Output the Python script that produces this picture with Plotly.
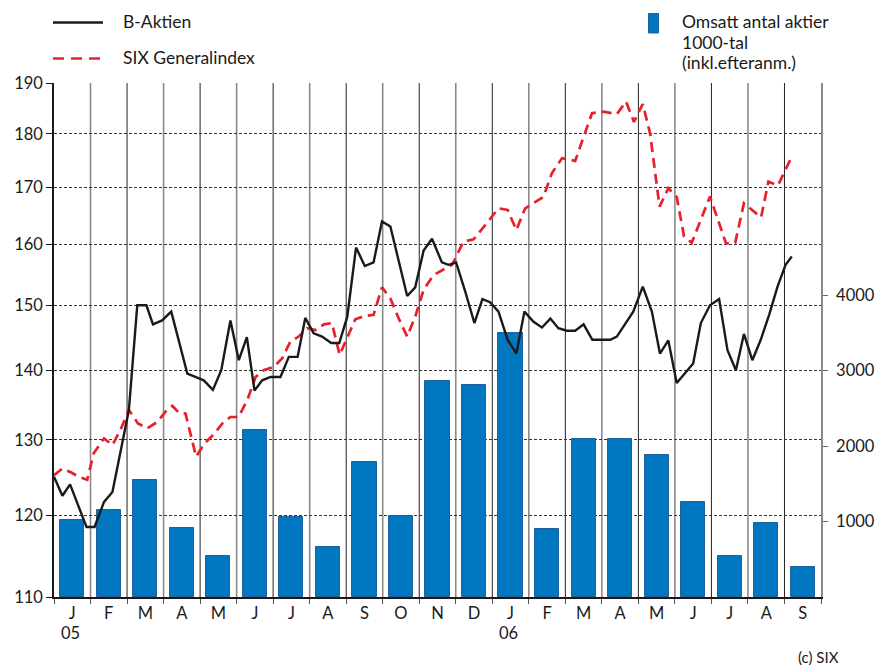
import plotly.graph_objects as go
import math

# ---------------- data ----------------
months = ["J", "F", "M", "A", "M", "J", "J", "A", "S", "O", "N", "D",
          "J", "F", "M", "A", "M", "J", "J", "A", "S"]
year_labels = ["05", "06"]
year_month_index = [0, 12]

volume = [1020, 1150, 1550, 910, 540, 2210, 1060, 660, 1790, 1070, 2860,
          2810, 3500, 900, 2090, 2090, 1880, 1260, 540, 980, 400]

b_x = [0, 0.23, 0.44, 0.89, 1.11, 1.37, 1.60, 2.05, 2.28, 2.53, 2.71, 2.96, 3.21, 3.65,
       4.10, 4.35, 4.58, 4.83, 5.06, 5.28, 5.49, 5.70, 5.93, 6.20, 6.43, 6.67, 6.88, 7.11,
       7.34, 7.59, 7.81, 8.03, 8.27, 8.51, 8.75, 8.98, 9.21, 9.44, 9.67, 9.89, 10.12, 10.35,
       10.62, 10.80, 11.01, 11.26, 11.51, 11.73, 11.94, 12.17, 12.42, 12.66, 12.88, 13.13,
       13.36, 13.59, 13.81, 14.04, 14.27, 14.50, 14.74, 14.98, 15.23, 15.41, 15.64, 15.86,
       16.12, 16.37, 16.59, 16.82, 17.05, 17.28, 17.50, 17.71, 17.96, 18.21, 18.44, 18.67,
       18.89, 19.12, 19.35, 19.58, 19.81, 20.03, 20.20]
b_aktien = [125.0, 122.5, 124.0, 118.5, 118.5, 121.7, 123.0, 134.2, 150.0, 150.0, 147.0,
            147.6, 149.0, 139.5, 138.5, 137.1, 140.0, 147.6, 141.5, 145.0, 137.0, 138.5,
            139.0, 139.0, 142.0, 142.0, 148.0, 145.6, 145.1, 144.1, 144.1, 148.2, 159.5,
            156.4, 157.0, 164.0, 163.1, 157.1, 151.5, 152.9, 159.0, 161.0, 157.0, 156.6,
            157.0, 152.2, 147.2, 151.0, 150.5, 149.0, 144.6, 142.5, 149.0, 147.4, 146.5,
            147.9, 146.4, 146.0, 146.0, 147.0, 144.6, 144.6, 144.6, 145.1, 147.0, 149.0,
            153.0, 149.0, 142.5, 144.5, 138.1, 139.6, 141.0, 147.2, 150.0, 151.0, 143.0,
            140.0, 145.5, 141.5, 144.6, 148.5, 153.0, 156.6, 158.0]

r_x = [0, 0.23, 0.46, 0.68, 0.91, 1.09, 1.37, 1.60, 1.82, 2.05, 2.30, 2.55, 2.83, 3.06,
       3.24, 3.42, 3.60, 3.89, 4.12, 4.38, 4.61, 4.83, 5.05, 5.29, 5.52, 5.74, 6.02, 6.25,
       6.47, 6.70, 6.93, 7.16, 7.39, 7.61, 7.82, 8.03, 8.25, 8.50, 8.75, 8.98, 9.21, 9.44,
       9.67, 9.89, 10.12, 10.39, 10.58, 10.90, 11.21, 11.49, 11.81, 12.17, 12.42, 12.66,
       12.90, 13.13, 13.40, 13.63, 13.91, 14.27, 14.54, 14.73, 15.04, 15.41, 15.66, 15.88,
       16.12, 16.32, 16.58, 16.82, 17.05, 17.25, 17.46, 17.96, 18.40, 18.65, 18.89, 19.36,
       19.56, 19.82, 20.18]
six_general = [125.2, 126.1, 125.6, 125.0, 124.6, 128.2, 130.2, 129.3, 131.4, 134.2, 132.3,
               131.6, 132.5, 134.0, 134.8, 133.8, 133.7, 127.7, 129.5, 130.8, 132.3, 133.2,
               133.2, 135.6, 139.0, 140.0, 140.5, 141.8, 144.3, 145.1, 146.4, 146.1, 147.0,
               147.2, 142.3, 145.1, 147.8, 148.3, 148.5, 152.9, 151.1, 147.9, 145.1, 148.2,
               152.5, 154.9, 155.5, 156.6, 160.5, 160.9, 163.4, 166.3, 166.0, 162.5, 166.3,
               167.2, 168.3, 172.6, 175.4, 174.9, 180.1, 184.0, 184.3, 183.8, 186.3, 182.3,
               185.8, 180.1, 166.6, 169.9, 168.3, 161.4, 160.3, 168.4, 160.2, 160.3, 167.2,
               164.7, 171.1, 170.4, 175.4]

left_ticks = [110, 120, 130, 140, 150, 160, 170, 180, 190]
right_ticks = [1000, 2000, 3000, 4000]

# ---------------- layout geometry ----------------
W, H = 875, 665
L, R, T, B = 54, 821, 83, 597
FONT = "Lato"
BLUE = "#0078c1"
RED = "#e8202a"
INK = "#1a1a1a"


def px(x):
    return (x - L) / (R - L)


def py(y):
    return (B - y) / (B - T)


n = len(months)
centers = [i + 0.5 for i in range(n)]

fig = go.Figure()

fig.add_trace(go.Bar(
    x=centers, y=volume, width=0.66, yaxis="y",
    marker=dict(color=BLUE, line=dict(color="#1f5f9a", width=1)),
    showlegend=False, hoverinfo="y"))

fig.add_trace(go.Scatter(
    x=r_x, y=six_general, yaxis="y2", mode="lines",
    line=dict(color=RED, width=2.7, dash="10px,6px"),
    showlegend=False))

fig.add_trace(go.Scatter(
    x=b_x, y=b_aktien, yaxis="y2", mode="lines",
    line=dict(color=INK, width=2.4),
    showlegend=False))

shapes = []
# month separators
for k in range(1, n):
    shapes.append(dict(type="line", xref="x", yref="paper", x0=k, x1=k, y0=0, y1=1,
                       line=dict(color="#222222" if k % 2 == 0 else "#8a8a8a",
                                 width=1 if k % 2 == 0 else 1.6),
                       layer="below"))

# legend samples
shapes.append(dict(type="line", xref="paper", yref="paper",
                   x0=px(53), x1=px(103), y0=py(22.5), y1=py(22.5),
                   line=dict(color=INK, width=2.4)))
shapes.append(dict(type="line", xref="paper", yref="paper",
                   x0=px(53), x1=px(103), y0=py(58.5), y1=py(58.5),
                   line=dict(color=RED, width=2.6, dash="11px,7px")))
shapes.append(dict(type="rect", xref="paper", yref="paper",
                   x0=px(648.5), x1=px(658.5), y0=py(33), y1=py(13.5),
                   fillcolor=BLUE, line=dict(color="#1f5f9a", width=1)))

annotations = []
tf = dict(family=FONT, size=17.5, color=INK)
annotations.append(dict(xref="paper", yref="paper", x=px(121), y=py(22), text="B-Aktien",
                        showarrow=False, xanchor="left", yanchor="middle", font=tf))
annotations.append(dict(xref="paper", yref="paper", x=px(121), y=py(58),
                        text="SIX Generalindex", showarrow=False, xanchor="left",
                        yanchor="middle", font=tf))
for i, t in enumerate(["Omsatt antal aktier", "1000-tal", "(inkl.efteranm.)"]):
    annotations.append(dict(xref="paper", yref="paper", x=px(680), y=py(22 + 20.5 * i),
                            text=t, showarrow=False, xanchor="left", yanchor="middle",
                            font=tf))
for lab, idx in zip(year_labels, year_month_index):
    annotations.append(dict(xref="x", yref="paper", x=idx + 0.45, y=py(633), text=lab,
                            showarrow=False, xanchor="center", yanchor="middle",
                            font=dict(family=FONT, size=16.5, color=INK)))
annotations.append(dict(xref="paper", yref="paper", x=px(841), y=py(657), text="(c) SIX",
                        showarrow=False, xanchor="right", yanchor="middle",
                        font=dict(family=FONT, size=15, color=INK)))

tickf = dict(family=FONT, size=16.5, color=INK)

fig.update_layout(
    width=W, height=H,
    margin=dict(l=L, r=W - R, t=T, b=H - B, pad=0, autoexpand=False),
    paper_bgcolor="white", plot_bgcolor="white",
    font=dict(family=FONT, size=16, color=INK),
    bargap=0,
    showlegend=False,
    shapes=shapes,
    annotations=annotations,
    xaxis=dict(range=[0, n], tickmode="array", tickvals=centers, ticktext=months,
               ticks="", showgrid=False, zeroline=False, automargin=False,
               showline=True, linecolor=INK, linewidth=1.5,
               tickfont=tickf,
               minor=dict(tickmode="array", tickvals=list(range(0, n + 1)),
                          ticks="outside", ticklen=5, tickcolor="#555555",
                          tickwidth=1, showgrid=False)),
    yaxis=dict(range=[0, 6808], side="right", tickmode="array", tickvals=right_ticks,
               ticktext=[str(v) for v in right_ticks], automargin=False,
               ticks="outside", ticklen=5, tickcolor="#666666", ticklabelstandoff=5,
               showgrid=False, zeroline=False,
               showline=True, linecolor="#8a8a8a", linewidth=1.6,
               tickfont=tickf),
    yaxis2=dict(type="log", range=[math.log10(110), math.log10(190)], overlaying="y",
                side="left", tickmode="array", tickvals=left_ticks,
                ticktext=[str(v) for v in left_ticks], automargin=False,
                ticks="outside", ticklen=6, tickcolor=INK,
                showgrid=True, gridcolor="#333333", gridwidth=1, griddash="3px,2px",
                zeroline=False, showline=True, linecolor=INK, linewidth=1.5,
                tickfont=tickf),
)

fig.write_html("out.html", config={"displayModeBar": False},
               post_script="document.body.style.margin='0';document.body.style.overflow='hidden';")
